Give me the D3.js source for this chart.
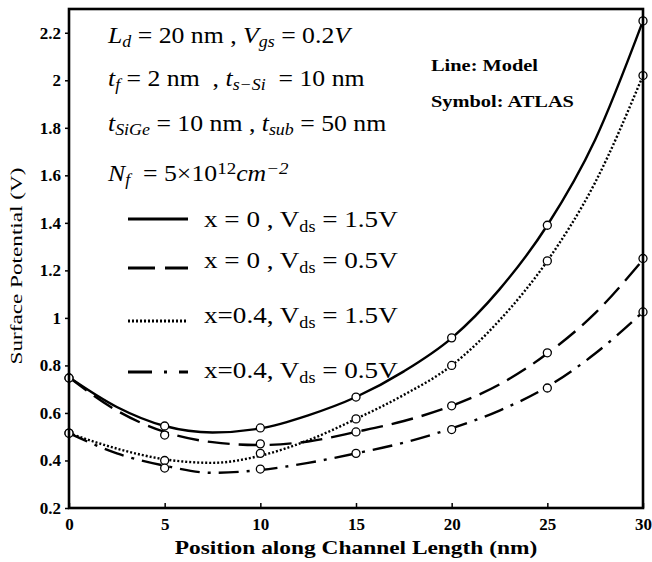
<!DOCTYPE html>
<html>
<head>
<meta charset="utf-8">
<script src="https://cdn.jsdelivr.net/npm/d3@7"></script>
<style>
  body { margin: 0; background: #fff; }
  svg text { font-family: "Liberation Serif", "Times New Roman", serif; }
</style>
</head>
<body>
<div id="chart"></div>
<script>
// model curves sampled every 2.5 nm
const modelX = [0, 2.5, 5, 7.5, 10, 12.5, 15, 17.5, 20, 22.5, 25, 27.5, 30];
const modelA = [0.75, 0.625, 0.545, 0.518, 0.535, 0.59, 0.667, 0.775, 0.915, 1.12, 1.39, 1.75, 2.25];   // x=0, Vds=1.5
const modelB = [0.75, 0.61, 0.52, 0.477, 0.465, 0.48, 0.52, 0.566, 0.63, 0.72, 0.85, 1.02, 1.245];      // x=0, Vds=0.5
const modelC = [0.515, 0.45, 0.405, 0.39, 0.42, 0.485, 0.575, 0.676, 0.80, 0.99, 1.24, 1.57, 2.02];     // x=0.4, Vds=1.5
const modelD = [0.515, 0.43, 0.378, 0.348, 0.36, 0.39, 0.43, 0.475, 0.535, 0.61, 0.71, 0.85, 1.025];    // x=0.4, Vds=0.5

// ATLAS symbols
const atlasX = [0, 5, 10, 15, 20, 25, 30];
const atlasA = [0.747, 0.545, 0.537, 0.667, 0.916, 1.39, 2.25];
const atlasB = [0.747, 0.507, 0.47, 0.52, 0.63, 0.853, 1.25];
const atlasC = [0.515, 0.40, 0.43, 0.575, 0.80, 1.24, 2.02];
const atlasD = [0.515, 0.368, 0.364, 0.43, 0.53, 0.705, 1.025];

const xTicks = [0, 5, 10, 15, 20, 25, 30];
const yTicks = [0.2, 0.4, 0.6, 0.8, 1, 1.2, 1.4, 1.6, 1.8, 2, 2.2];

const width = 652, height = 562;
const mLeft = 69, mRight = 643, mTop = 9, mBottom = 508;

const svg = d3.select("#chart").append("svg")
  .attr("width", width)
  .attr("height", height);

const x = d3.scaleLinear().domain([0, 30]).range([mLeft, mRight]);
const y = d3.scaleLinear().domain([0.2, 2.3]).range([mBottom, mTop]);

// styles for each series
const styles = [
  { dash: null, w: 2.4 },
  { dash: "22,9", w: 2.4 },
  { dash: "2,2", w: 2.4 },
  { dash: "20,8,3,8", w: 2.4 }
];
const models = [modelA, modelB, modelC, modelD];
const atlas = [atlasA, atlasB, atlasC, atlasD];

const line = d3.line()
  .x(d => x(d[0]))
  .y(d => y(d[1]))
  .curve(d3.curveMonotoneX);

const plot = svg.append("g");

models.forEach((m, i) => {
  plot.append("path")
    .datum(modelX.map((v, j) => [v, m[j]]))
    .attr("d", line)
    .attr("fill", "none")
    .attr("stroke", "#000")
    .attr("stroke-width", styles[i].w)
    .attr("stroke-dasharray", styles[i].dash);
});

atlas.forEach(a => {
  plot.selectAll(null)
    .data(atlasX.map((v, j) => [v, a[j]]))
    .enter().append("circle")
    .attr("cx", d => x(d[0]))
    .attr("cy", d => y(d[1]))
    .attr("r", 4)
    .attr("fill", "#fff")
    .attr("stroke", "#000")
    .attr("stroke-width", 1.3);
});

// axes
const xAxis = svg.append("g")
  .attr("transform", "translate(0," + mBottom + ")")
  .call(d3.axisBottom(x).tickValues(xTicks).tickSize(-5).tickPadding(10).tickFormat(d3.format("d")));
xAxis.select(".domain").remove();
xAxis.selectAll("line").attr("stroke-width", 1.5);
xAxis.selectAll("text")
  .style("font-family", "Liberation Serif")
  .style("font-size", "17px")
  .style("font-weight", "bold")
  .attr("fill", "#000");

const yAxis = svg.append("g")
  .attr("transform", "translate(" + mLeft + ",0)")
  .call(d3.axisLeft(y).tickValues(yTicks).tickSize(4).tickPadding(4).tickFormat(d => String(+d.toFixed(1))));
yAxis.select(".domain").remove();
yAxis.selectAll("line").attr("stroke-width", 1.5);
yAxis.selectAll("text")
  .style("font-family", "Liberation Serif")
  .style("font-size", "17px")
  .style("font-weight", "bold")
  .attr("fill", "#000");

// frame
svg.append("rect")
  .attr("x", mLeft).attr("y", mTop)
  .attr("width", mRight - mLeft).attr("height", mBottom - mTop)
  .attr("fill", "none").attr("stroke", "#000").attr("stroke-width", 2.6);

// axis titles (the source text is stretched along its length)
svg.append("g")
  .attr("transform", "translate(356,554) scale(1.3,1)")
  .append("text")
  .attr("text-anchor", "middle")
  .style("font-size", "18px").style("font-weight", "bold")
  .text("Position along Channel Length (nm)");

svg.append("g")
  .attr("transform", "translate(22,266) rotate(-90) scale(1.45,1)")
  .append("text")
  .attr("text-anchor", "middle")
  .style("font-size", "16px")
  .text("Surface Potential (V)");

// parameter annotation
function mathLine(yPos, parts) {
  const t = svg.append("g")
    .attr("transform", "translate(108," + yPos + ") scale(1.12,1)")
    .append("text").style("font-size", "23px")
    .attr("xml:space", "preserve").style("white-space", "pre");
  parts.forEach(p => {
    const s = t.append("tspan").text(p.t);
    if (p.i) s.style("font-style", "italic");
    if (p.sub) s.attr("baseline-shift", "-25%").style("font-size", "16px");
    if (p.sup) s.attr("baseline-shift", "40%").style("font-size", "17px");
  });
}
mathLine(43, [{ t: "L", i: 1 }, { t: "d", i: 1, sub: 1 }, { t: " = 20 nm , " }, { t: "V", i: 1 }, { t: "gs", i: 1, sub: 1 }, { t: " = 0.2" }, { t: "V", i: 1 }]);
mathLine(86, [{ t: "t", i: 1 }, { t: "f", i: 1, sub: 1 }, { t: " = 2 nm  , " }, { t: "t", i: 1 }, { t: "s\u2212Si", i: 1, sub: 1 }, { t: "  = 10 nm" }]);
mathLine(131, [{ t: "t", i: 1 }, { t: "SiGe", i: 1, sub: 1 }, { t: " = 10 nm , " }, { t: "t", i: 1 }, { t: "sub", i: 1, sub: 1 }, { t: " = 50 nm" }]);
mathLine(181, [{ t: "N", i: 1 }, { t: "f", i: 1, sub: 1 }, { t: "  = 5\u00d710" }, { t: "12", sup: 1 }, { t: "cm", i: 1 }, { t: "\u22122", i: 1, sup: 1 }]);

[["Line: Model", 71], ["Symbol: ATLAS", 107]].forEach(d => {
  svg.append("g")
    .attr("transform", "translate(431," + d[1] + ") scale(1.2,1)")
    .append("text")
    .style("font-size", "17px").style("font-weight", "bold").text(d[0]);
});

// legend
const legendLabels = [
  ["x = 0 , V", "ds", " = 1.5V"],
  ["x = 0 , V", "ds", " = 0.5V"],
  ["x=0.4, V", "ds", " = 1.5V"],
  ["x=0.4, V", "ds", " = 0.5V"]
];
const legendY = [219, 268, 321, 372];
const legendTextY = [227, 268, 323, 378];
legendLabels.forEach((lab, i) => {
  svg.append("line")
    .attr("x1", 128).attr("x2", 188)
    .attr("y1", legendY[i]).attr("y2", legendY[i])
    .attr("stroke", "#000")
    .attr("stroke-width", styles[i].w + 0.4)
    .attr("stroke-dasharray", i === 1 ? "27,10" : i === 3 ? "24,12,3,12" : styles[i].dash);
  const t = svg.append("g")
    .attr("transform", "translate(204," + legendTextY[i] + ") scale(1.13,1)")
    .append("text").style("font-size", "24px");
  t.append("tspan").text(lab[0]);
  t.append("tspan").text(lab[1]).attr("baseline-shift", "-30%").style("font-size", "16px");
  t.append("tspan").text(lab[2]);
});
</script>
</body>
</html>
